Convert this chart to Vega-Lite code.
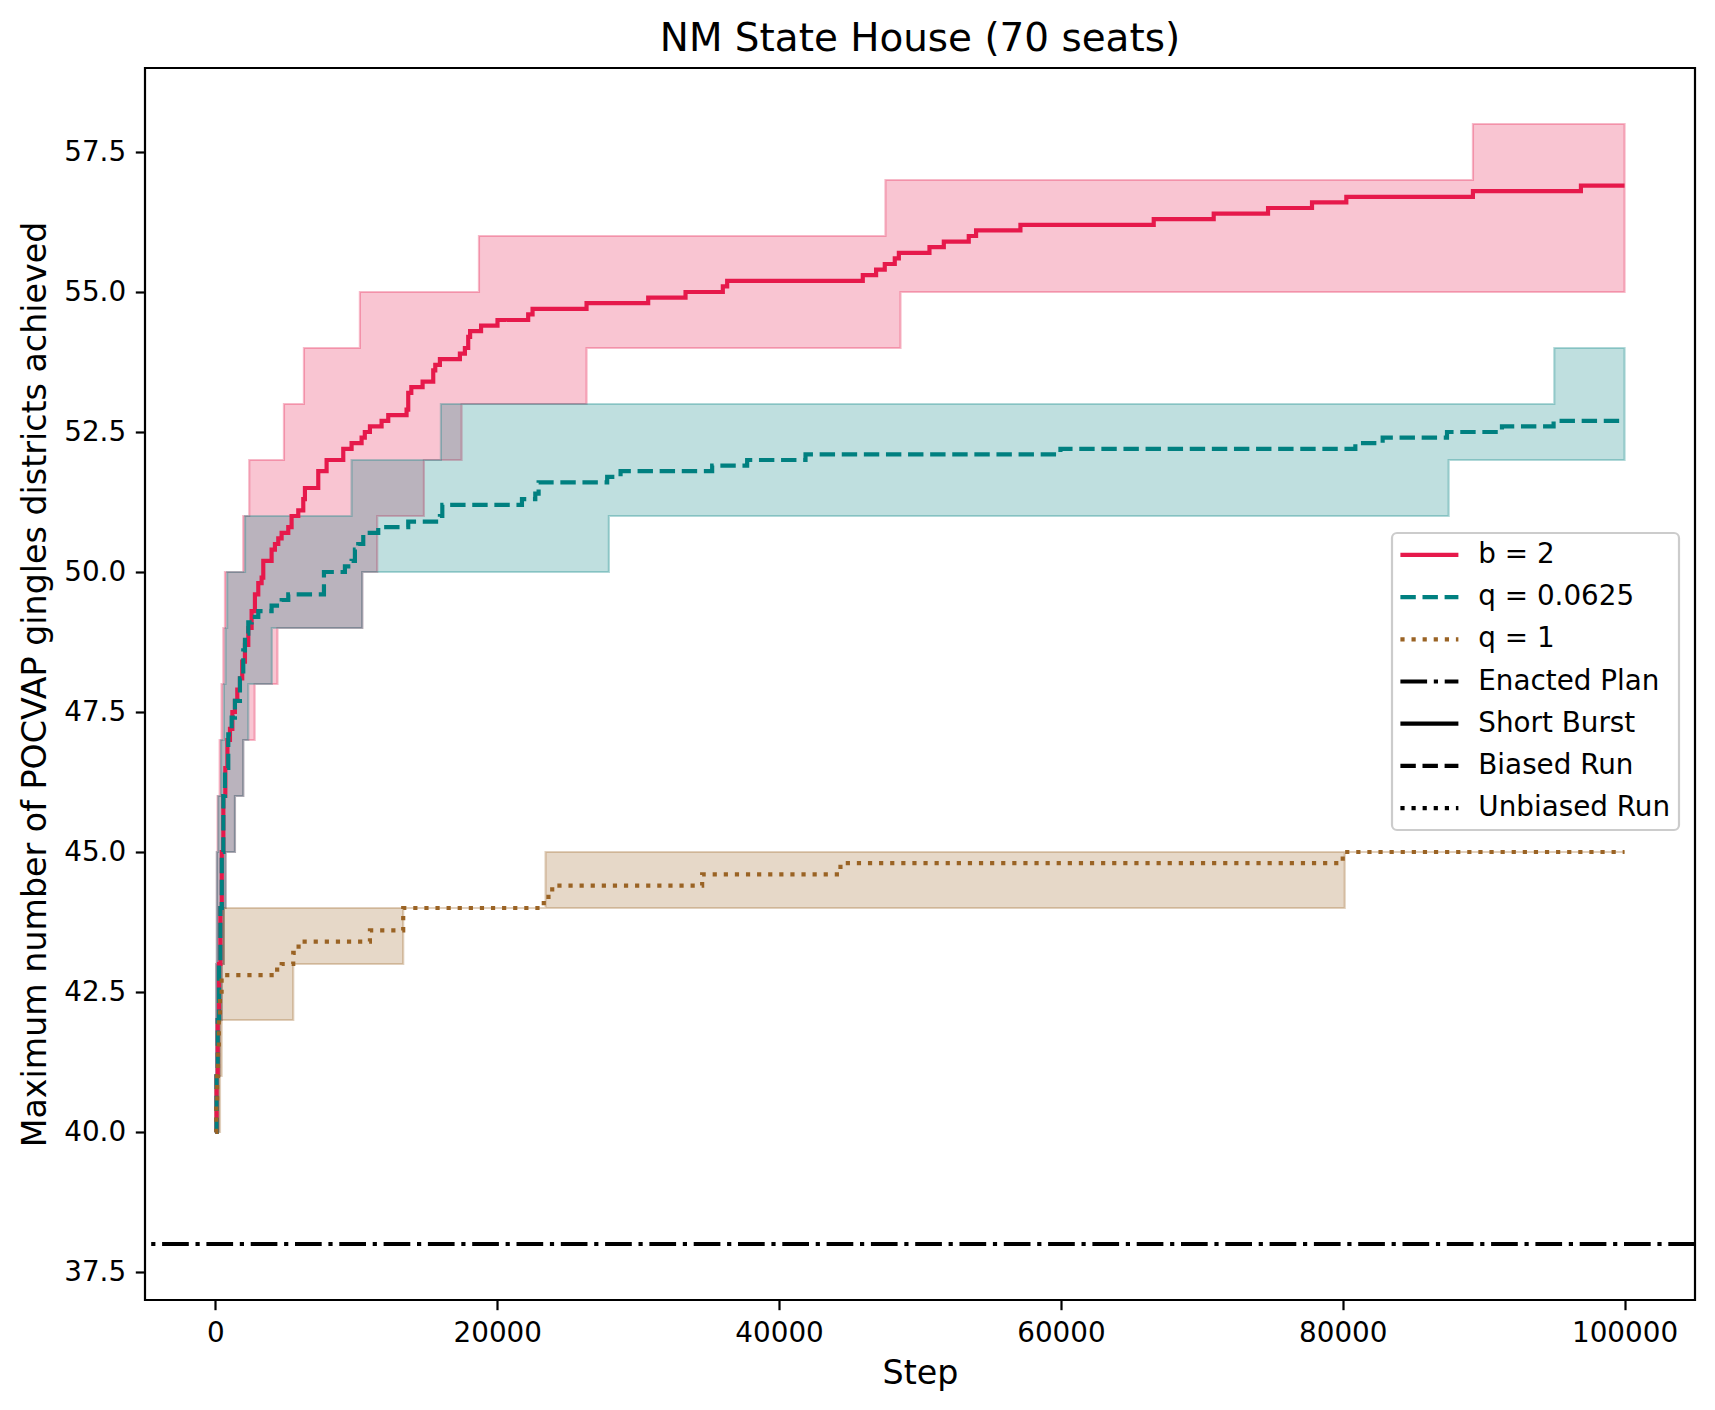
{
  "$schema": "https://vega.github.io/schema/vega-lite/v6.json",
  "width": 1550,
  "height": 1232,
  "autosize": {"type": "none"},
  "padding": {"left": 145, "top": 68, "right": 20, "bottom": 110},
  "background": "white",
  "title": {
    "text": "NM State House (70 seats)",
    "font": "DejaVu Sans",
    "fontSize": 38.9,
    "fontWeight": "normal",
    "color": "black",
    "offset": 8.7
  },
  "config": {
    "font": "DejaVu Sans",
    "view": {"stroke": "black", "strokeWidth": 2.2},
    "axis": {
      "grid": false,
      "domain": false,
      "tickColor": "black",
      "tickWidth": 2.2,
      "tickSize": 9.7,
      "labelFont": "DejaVu Sans",
      "labelFontSize": 27.8,
      "labelColor": "black",
      "labelPadding": 9.7,
      "labelOverlap": false,
      "labelFlush": false,
      "titleFont": "DejaVu Sans",
      "titleFontSize": 33.3,
      "titleFontWeight": "normal",
      "titleColor": "black"
    },
    "axisX": {"titlePadding": 10},
    "axisY": {"titlePadding": 11},
    "legend": {"strokeWidth": 2.2}
  },
  "datasets": {
    "band": [
      {"series": "b = 2", "step": 0, "lo": 40, "hi": 41},
      {"series": "b = 2", "step": 50, "lo": 40, "hi": 43},
      {"series": "b = 2", "step": 100, "lo": 40, "hi": 45},
      {"series": "b = 2", "step": 150, "lo": 40, "hi": 46},
      {"series": "b = 2", "step": 200, "lo": 41, "hi": 46},
      {"series": "b = 2", "step": 300, "lo": 42, "hi": 47},
      {"series": "b = 2", "step": 437, "lo": 42, "hi": 48},
      {"series": "b = 2", "step": 450, "lo": 43, "hi": 48},
      {"series": "b = 2", "step": 560, "lo": 43, "hi": 49},
      {"series": "b = 2", "step": 600, "lo": 44, "hi": 49},
      {"series": "b = 2", "step": 674, "lo": 44, "hi": 50},
      {"series": "b = 2", "step": 720, "lo": 45, "hi": 50},
      {"series": "b = 2", "step": 1383, "lo": 46, "hi": 50},
      {"series": "b = 2", "step": 1972, "lo": 47, "hi": 51},
      {"series": "b = 2", "step": 2400, "lo": 47, "hi": 52},
      {"series": "b = 2", "step": 2780, "lo": 48, "hi": 52},
      {"series": "b = 2", "step": 4400, "lo": 49, "hi": 52},
      {"series": "b = 2", "step": 4860, "lo": 49, "hi": 53},
      {"series": "b = 2", "step": 6279, "lo": 49, "hi": 54},
      {"series": "b = 2", "step": 10250, "lo": 49, "hi": 55},
      {"series": "b = 2", "step": 10418, "lo": 50, "hi": 55},
      {"series": "b = 2", "step": 11480, "lo": 51, "hi": 55},
      {"series": "b = 2", "step": 14793, "lo": 52, "hi": 55},
      {"series": "b = 2", "step": 17466, "lo": 53, "hi": 55},
      {"series": "b = 2", "step": 18700, "lo": 53, "hi": 56},
      {"series": "b = 2", "step": 26335, "lo": 54, "hi": 56},
      {"series": "b = 2", "step": 47550, "lo": 54, "hi": 57},
      {"series": "b = 2", "step": 48613, "lo": 55, "hi": 57},
      {"series": "b = 2", "step": 89240, "lo": 55, "hi": 58},
      {"series": "b = 2", "step": 100000, "lo": 55, "hi": 58},
      {"series": "q = 0.0625", "step": 0, "lo": 40, "hi": 41},
      {"series": "q = 0.0625", "step": 50, "lo": 40, "hi": 43},
      {"series": "q = 0.0625", "step": 100, "lo": 40, "hi": 45},
      {"series": "q = 0.0625", "step": 200, "lo": 41, "hi": 46},
      {"series": "q = 0.0625", "step": 300, "lo": 42, "hi": 46},
      {"series": "q = 0.0625", "step": 400, "lo": 42, "hi": 47},
      {"series": "q = 0.0625", "step": 450, "lo": 43, "hi": 47},
      {"series": "q = 0.0625", "step": 600, "lo": 44, "hi": 48},
      {"series": "q = 0.0625", "step": 720, "lo": 45, "hi": 49},
      {"series": "q = 0.0625", "step": 832, "lo": 45, "hi": 50},
      {"series": "q = 0.0625", "step": 1383, "lo": 46, "hi": 50},
      {"series": "q = 0.0625", "step": 1975, "lo": 47, "hi": 50},
      {"series": "q = 0.0625", "step": 2100, "lo": 47, "hi": 51},
      {"series": "q = 0.0625", "step": 2330, "lo": 48, "hi": 51},
      {"series": "q = 0.0625", "step": 4000, "lo": 49, "hi": 51},
      {"series": "q = 0.0625", "step": 9660, "lo": 49, "hi": 52},
      {"series": "q = 0.0625", "step": 10418, "lo": 50, "hi": 52},
      {"series": "q = 0.0625", "step": 16000, "lo": 50, "hi": 53},
      {"series": "q = 0.0625", "step": 27920, "lo": 51, "hi": 53},
      {"series": "q = 0.0625", "step": 87517, "lo": 52, "hi": 53},
      {"series": "q = 0.0625", "step": 95015, "lo": 52, "hi": 54},
      {"series": "q = 0.0625", "step": 100000, "lo": 52, "hi": 54},
      {"series": "q = 1", "step": 0, "lo": 40, "hi": 41},
      {"series": "q = 1", "step": 150, "lo": 40, "hi": 42},
      {"series": "q = 1", "step": 300, "lo": 40, "hi": 43},
      {"series": "q = 1", "step": 320, "lo": 41, "hi": 43},
      {"series": "q = 1", "step": 437, "lo": 42, "hi": 43},
      {"series": "q = 1", "step": 556, "lo": 42, "hi": 44},
      {"series": "q = 1", "step": 5520, "lo": 43, "hi": 44},
      {"series": "q = 1", "step": 13325, "lo": 44, "hi": 44},
      {"series": "q = 1", "step": 23427, "lo": 44, "hi": 45},
      {"series": "q = 1", "step": 80140, "lo": 45, "hi": 45},
      {"series": "q = 1", "step": 100000, "lo": 45, "hi": 45}
    ],
    "mean": [
      {"series": "b = 2", "step": 0, "value": 40.0},
      {"series": "b = 2", "step": 80, "value": 41.0},
      {"series": "b = 2", "step": 160, "value": 42.0},
      {"series": "b = 2", "step": 250, "value": 43.0},
      {"series": "b = 2", "step": 350, "value": 44.0},
      {"series": "b = 2", "step": 450, "value": 45.0},
      {"series": "b = 2", "step": 560, "value": 46.0},
      {"series": "b = 2", "step": 700, "value": 46.5},
      {"series": "b = 2", "step": 850, "value": 47.0},
      {"series": "b = 2", "step": 1030, "value": 47.2},
      {"series": "b = 2", "step": 1200, "value": 47.5},
      {"series": "b = 2", "step": 1383, "value": 47.7},
      {"series": "b = 2", "step": 1550, "value": 47.9},
      {"series": "b = 2", "step": 1738, "value": 48.1},
      {"series": "b = 2", "step": 1900, "value": 48.4},
      {"series": "b = 2", "step": 2093, "value": 48.7},
      {"series": "b = 2", "step": 2330, "value": 49.0},
      {"series": "b = 2", "step": 2566, "value": 49.3},
      {"series": "b = 2", "step": 2802, "value": 49.6},
      {"series": "b = 2", "step": 3039, "value": 49.8},
      {"series": "b = 2", "step": 3276, "value": 49.9},
      {"series": "b = 2", "step": 3394, "value": 50.2},
      {"series": "b = 2", "step": 3985, "value": 50.4},
      {"series": "b = 2", "step": 4222, "value": 50.5},
      {"series": "b = 2", "step": 4458, "value": 50.6},
      {"series": "b = 2", "step": 4695, "value": 50.7},
      {"series": "b = 2", "step": 5168, "value": 50.8},
      {"series": "b = 2", "step": 5404, "value": 51.0},
      {"series": "b = 2", "step": 5877, "value": 51.1},
      {"series": "b = 2", "step": 6232, "value": 51.3},
      {"series": "b = 2", "step": 6350, "value": 51.5},
      {"series": "b = 2", "step": 7296, "value": 51.8},
      {"series": "b = 2", "step": 7887, "value": 52.0},
      {"series": "b = 2", "step": 9070, "value": 52.2},
      {"series": "b = 2", "step": 9661, "value": 52.3},
      {"series": "b = 2", "step": 10371, "value": 52.4},
      {"series": "b = 2", "step": 10600, "value": 52.5},
      {"series": "b = 2", "step": 10962, "value": 52.6},
      {"series": "b = 2", "step": 11790, "value": 52.7},
      {"series": "b = 2", "step": 12263, "value": 52.8},
      {"series": "b = 2", "step": 13563, "value": 52.9},
      {"series": "b = 2", "step": 13681, "value": 53.2},
      {"series": "b = 2", "step": 13900, "value": 53.3},
      {"series": "b = 2", "step": 14700, "value": 53.4},
      {"series": "b = 2", "step": 15455, "value": 53.6},
      {"series": "b = 2", "step": 15600, "value": 53.7},
      {"series": "b = 2", "step": 15928, "value": 53.8},
      {"series": "b = 2", "step": 17347, "value": 53.9},
      {"series": "b = 2", "step": 17702, "value": 54.0},
      {"series": "b = 2", "step": 17938, "value": 54.2},
      {"series": "b = 2", "step": 18073, "value": 54.3},
      {"series": "b = 2", "step": 18850, "value": 54.4},
      {"series": "b = 2", "step": 20016, "value": 54.5},
      {"series": "b = 2", "step": 22193, "value": 54.6},
      {"series": "b = 2", "step": 22504, "value": 54.7},
      {"series": "b = 2", "step": 26335, "value": 54.8},
      {"series": "b = 2", "step": 30710, "value": 54.9},
      {"series": "b = 2", "step": 33360, "value": 55.0},
      {"series": "b = 2", "step": 36007, "value": 55.1},
      {"series": "b = 2", "step": 36315, "value": 55.2},
      {"series": "b = 2", "step": 45940, "value": 55.3},
      {"series": "b = 2", "step": 46885, "value": 55.4},
      {"series": "b = 2", "step": 47500, "value": 55.5},
      {"series": "b = 2", "step": 48210, "value": 55.6},
      {"series": "b = 2", "step": 48500, "value": 55.7},
      {"series": "b = 2", "step": 50672, "value": 55.8},
      {"series": "b = 2", "step": 51690, "value": 55.9},
      {"series": "b = 2", "step": 53460, "value": 56.0},
      {"series": "b = 2", "step": 53980, "value": 56.1},
      {"series": "b = 2", "step": 57127, "value": 56.2},
      {"series": "b = 2", "step": 66587, "value": 56.3},
      {"series": "b = 2", "step": 70844, "value": 56.4},
      {"series": "b = 2", "step": 74700, "value": 56.5},
      {"series": "b = 2", "step": 77820, "value": 56.6},
      {"series": "b = 2", "step": 80255, "value": 56.7},
      {"series": "b = 2", "step": 89240, "value": 56.8},
      {"series": "b = 2", "step": 96905, "value": 56.9},
      {"series": "b = 2", "step": 100000, "value": 56.9},
      {"series": "q = 0.0625", "step": 0, "value": 40.0},
      {"series": "q = 0.0625", "step": 80, "value": 41.0},
      {"series": "q = 0.0625", "step": 160, "value": 42.0},
      {"series": "q = 0.0625", "step": 250, "value": 43.0},
      {"series": "q = 0.0625", "step": 350, "value": 44.0},
      {"series": "q = 0.0625", "step": 450, "value": 45.0},
      {"series": "q = 0.0625", "step": 560, "value": 46.0},
      {"series": "q = 0.0625", "step": 674, "value": 46.5},
      {"series": "q = 0.0625", "step": 910, "value": 47.1},
      {"series": "q = 0.0625", "step": 1150, "value": 47.4},
      {"series": "q = 0.0625", "step": 1383, "value": 47.7},
      {"series": "q = 0.0625", "step": 1738, "value": 48.1},
      {"series": "q = 0.0625", "step": 1974, "value": 48.6},
      {"series": "q = 0.0625", "step": 2093, "value": 48.9},
      {"series": "q = 0.0625", "step": 2330, "value": 49.1},
      {"series": "q = 0.0625", "step": 2566, "value": 49.2},
      {"series": "q = 0.0625", "step": 3039, "value": 49.3},
      {"series": "q = 0.0625", "step": 3985, "value": 49.4},
      {"series": "q = 0.0625", "step": 4700, "value": 49.5},
      {"series": "q = 0.0625", "step": 5168, "value": 49.6},
      {"series": "q = 0.0625", "step": 7700, "value": 50.0},
      {"series": "q = 0.0625", "step": 9188, "value": 50.1},
      {"series": "q = 0.0625", "step": 9661, "value": 50.2},
      {"series": "q = 0.0625", "step": 9897, "value": 50.4},
      {"series": "q = 0.0625", "step": 10134, "value": 50.5},
      {"series": "q = 0.0625", "step": 10489, "value": 50.7},
      {"series": "q = 0.0625", "step": 11553, "value": 50.8},
      {"series": "q = 0.0625", "step": 13681, "value": 50.9},
      {"series": "q = 0.0625", "step": 15928, "value": 51.0},
      {"series": "q = 0.0625", "step": 16100, "value": 51.2},
      {"series": "q = 0.0625", "step": 21752, "value": 51.3},
      {"series": "q = 0.0625", "step": 22698, "value": 51.4},
      {"series": "q = 0.0625", "step": 22934, "value": 51.6},
      {"series": "q = 0.0625", "step": 27800, "value": 51.7},
      {"series": "q = 0.0625", "step": 28750, "value": 51.8},
      {"series": "q = 0.0625", "step": 35250, "value": 51.9},
      {"series": "q = 0.0625", "step": 37733, "value": 52.0},
      {"series": "q = 0.0625", "step": 41875, "value": 52.1},
      {"series": "q = 0.0625", "step": 59966, "value": 52.2},
      {"series": "q = 0.0625", "step": 80895, "value": 52.3},
      {"series": "q = 0.0625", "step": 82834, "value": 52.4},
      {"series": "q = 0.0625", "step": 87400, "value": 52.5},
      {"series": "q = 0.0625", "step": 91300, "value": 52.6},
      {"series": "q = 0.0625", "step": 94965, "value": 52.7},
      {"series": "q = 0.0625", "step": 100000, "value": 52.7},
      {"series": "q = 1", "step": 0, "value": 40.0},
      {"series": "q = 1", "step": 60, "value": 40.5},
      {"series": "q = 1", "step": 120, "value": 41.0},
      {"series": "q = 1", "step": 180, "value": 41.5},
      {"series": "q = 1", "step": 240, "value": 42.0},
      {"series": "q = 1", "step": 320, "value": 42.4},
      {"series": "q = 1", "step": 437, "value": 42.8},
      {"series": "q = 1", "step": 3985, "value": 42.9},
      {"series": "q = 1", "step": 4700, "value": 43.0},
      {"series": "q = 1", "step": 5520, "value": 43.2},
      {"series": "q = 1", "step": 5900, "value": 43.4},
      {"series": "q = 1", "step": 10962, "value": 43.6},
      {"series": "q = 1", "step": 13325, "value": 44.0},
      {"series": "q = 1", "step": 23300, "value": 44.2},
      {"series": "q = 1", "step": 23900, "value": 44.4},
      {"series": "q = 1", "step": 34540, "value": 44.6},
      {"series": "q = 1", "step": 44355, "value": 44.8},
      {"series": "q = 1", "step": 80000, "value": 45.0},
      {"series": "q = 1", "step": 100000, "value": 45.0}
    ],
    "enacted": [
      {"series": "Enacted Plan", "value": 38}
    ]
  },
  "layer": [
    {
      "data": {"name": "band"},
      "transform": [{"filter": "datum.series === 'b = 2'"}],
      "mark": {"type": "area", "interpolate": "step-after", "fill": "#e6194b", "fillOpacity": 0.25, "stroke": "#e6194b", "strokeOpacity": 0.3, "strokeWidth": 2.2},
      "encoding": {
        "x": {"field": "step", "type": "quantitative", "title": "Step", "scale": {"domain": [-5000, 105000], "nice": false, "zero": false}, "axis": {"values": [0, 20000, 40000, 60000, 80000, 100000], "format": "d"}},
        "y": {"field": "hi", "type": "quantitative", "title": "Maximum number of POCVAP gingles districts achieved", "scale": {"domain": [37, 59], "nice": false, "zero": false}, "axis": {"values": [37.5, 40, 42.5, 45, 47.5, 50, 52.5, 55, 57.5], "format": ".1f"}},
        "y2": {"field": "lo"}
      }
    },
    {
      "data": {"name": "band"},
      "transform": [{"filter": "datum.series === 'q = 0.0625'"}],
      "mark": {"type": "area", "interpolate": "step-after", "fill": "#008080", "fillOpacity": 0.25, "stroke": "#008080", "strokeOpacity": 0.3, "strokeWidth": 2.2},
      "encoding": {
        "x": {"field": "step", "type": "quantitative", "title": "Step", "scale": {"domain": [-5000, 105000], "nice": false, "zero": false}},
        "y": {"field": "hi", "type": "quantitative", "title": "Maximum number of POCVAP gingles districts achieved", "scale": {"domain": [37, 59], "nice": false, "zero": false}},
        "y2": {"field": "lo"}
      }
    },
    {
      "data": {"name": "band"},
      "transform": [{"filter": "datum.series === 'q = 1'"}],
      "mark": {"type": "area", "interpolate": "step-after", "fill": "#9a6324", "fillOpacity": 0.25, "stroke": "#9a6324", "strokeOpacity": 0.3, "strokeWidth": 2.2},
      "encoding": {
        "x": {"field": "step", "type": "quantitative", "title": "Step", "scale": {"domain": [-5000, 105000], "nice": false, "zero": false}},
        "y": {"field": "hi", "type": "quantitative", "title": "Maximum number of POCVAP gingles districts achieved", "scale": {"domain": [37, 59], "nice": false, "zero": false}},
        "y2": {"field": "lo"}
      }
    },
    {
      "data": {"name": "mean"},
      "mark": {"type": "line", "interpolate": "step-after", "strokeWidth": 4.17},
      "encoding": {
        "x": {"field": "step", "type": "quantitative", "title": "Step", "scale": {"domain": [-5000, 105000], "nice": false, "zero": false}},
        "y": {"field": "value", "type": "quantitative", "title": "Maximum number of POCVAP gingles districts achieved", "scale": {"domain": [37, 59], "nice": false, "zero": false}},
        "color": {
          "field": "series",
          "type": "nominal",
          "scale": {
            "domain": ["b = 2", "q = 0.0625", "q = 1", "Enacted Plan", "Short Burst", "Biased Run", "Unbiased Run"],
            "range": ["#e6194b", "#008080", "#9a6324", "black", "black", "black", "black"]
          },
          "legend": {
            "title": null,
            "orient": "none",
            "legendX": 1247,
            "legendY": 465,
            "symbolType": "M-2.9,0H2.9",
            "symbolSize": 400,
            "symbolStrokeWidth": 4.17,
            "symbolOffset": 15.5,
            "labelFont": "DejaVu Sans",
            "labelFontSize": 27.8,
            "labelColor": "black",
            "labelOffset": 35,
            "labelLimit": 400,
            "rowPadding": 13.2,
            "padding": 8,
            "strokeColor": "#cccccc",
            "fillColor": "rgba(255,255,255,0.8)",
            "cornerRadius": 5
          }
        },
        "strokeDash": {
          "field": "series",
          "type": "nominal",
          "scale": {
            "domain": ["b = 2", "q = 0.0625", "q = 1", "Enacted Plan", "Short Burst", "Biased Run", "Unbiased Run"],
            "range": [[1, 0], [15.4, 6.7], [4.2, 6.9], [26.7, 6.7, 4.2, 6.7], [1, 0], [15.4, 6.7], [4.2, 6.9]]
          }
        }
      }
    },
    {
      "data": {"name": "enacted"},
      "mark": {"type": "rule", "strokeWidth": 4.17},
      "encoding": {
        "y": {"field": "value", "type": "quantitative", "title": "Maximum number of POCVAP gingles districts achieved", "scale": {"domain": [37, 59], "nice": false, "zero": false}},
        "color": {"field": "series", "type": "nominal"},
        "strokeDash": {"field": "series", "type": "nominal"}
      }
    }
  ]
}
